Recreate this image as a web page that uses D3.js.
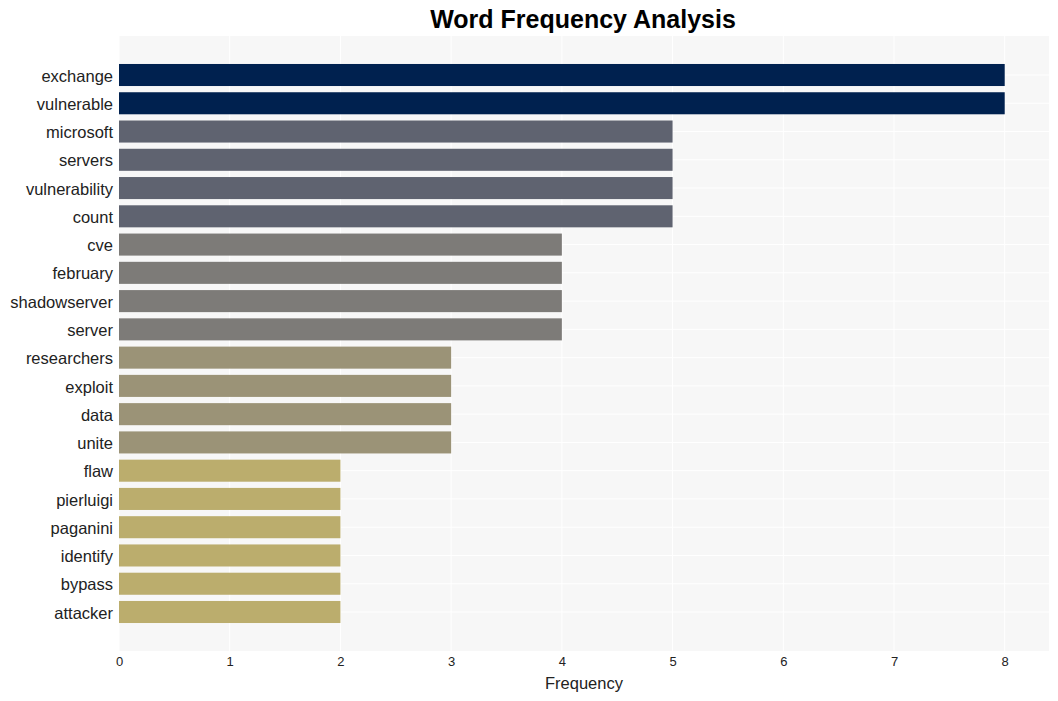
<!DOCTYPE html>
<html><head><meta charset="utf-8">
<script src="https://cdn.jsdelivr.net/npm/d3@7"></script>
<style>body{margin:0;background:#fff;font-family:"Liberation Sans",Arial,sans-serif;}</style>
</head><body><svg id="c" width="1058" height="701"></svg>
<script>
const words = ["exchange","vulnerable","microsoft","servers","vulnerability","count","cve","february","shadowserver","server","researchers","exploit","data","unite","flaw","pierluigi","paganini","identify","bypass","attacker"];
const counts = [8,8,5,5,5,5,4,4,4,4,3,3,3,3,2,2,2,2,2,2];
const colorByCount = {8:"#00214f",5:"#5f6370",4:"#7d7b78",3:"#9b9377",2:"#bbad6d"};
const xTicks = [0,1,2,3,4,5,6,7,8];

const svg = d3.select("#c");
const m = {l:119, r:1049, t:36, b:651};
const x = d3.scaleLinear().domain([0, 8.4]).range([m.l, m.r]);
const y = d3.scaleBand().domain(words).range([m.t, m.b]).paddingInner(0.22).paddingOuter(0.99);

svg.append("rect").attr("x",m.l).attr("y",m.t).attr("width",m.r-m.l).attr("height",m.b-m.t).attr("fill","#f7f7f7");
svg.append("g").selectAll("line").data(xTicks).join("line")
  .attr("x1",d=>x(d)).attr("x2",d=>x(d)).attr("y1",m.t).attr("y2",m.b)
  .attr("stroke","#fff").attr("stroke-width",1);
svg.append("g").selectAll("line").data(words).join("line")
  .attr("x1",m.l).attr("x2",m.r).attr("y1",d=>y(d)+y.bandwidth()/2).attr("y2",d=>y(d)+y.bandwidth()/2)
  .attr("stroke","#fff").attr("stroke-width",1);

svg.append("g").selectAll("rect").data(words).join("rect")
  .attr("x",x(0)).attr("y",d=>y(d)).attr("height",y.bandwidth())
  .attr("width",(d,i)=>x(counts[i])-x(0)).attr("fill",(d,i)=>colorByCount[counts[i]]);

const ya = svg.append("g").attr("transform",`translate(${m.l},0)`).call(d3.axisLeft(y).tickSize(0).tickPadding(6));
ya.select(".domain").remove();
ya.selectAll("text").attr("font-size",16.5).attr("dy","0.4em").attr("fill","#222").attr("font-family","Liberation Sans, Arial, sans-serif");

const xa = svg.append("g").attr("transform",`translate(0,${m.b})`).call(d3.axisBottom(x).tickValues(xTicks).tickSize(0).tickPadding(6).tickFormat(d3.format("d")));
xa.select(".domain").remove();
xa.selectAll("text").attr("font-size",13).attr("fill","#222").attr("font-family","Liberation Sans, Arial, sans-serif");

svg.append("text").attr("x",(m.l+m.r)/2).attr("y",689).attr("text-anchor","middle")
  .attr("font-size",16.5).attr("fill","#222").text("Frequency");
svg.append("text").attr("x",583).attr("y",28).attr("text-anchor","middle")
  .attr("font-size",25).attr("font-weight","bold").attr("fill","#000").text("Word Frequency Analysis");
</script></body></html>
